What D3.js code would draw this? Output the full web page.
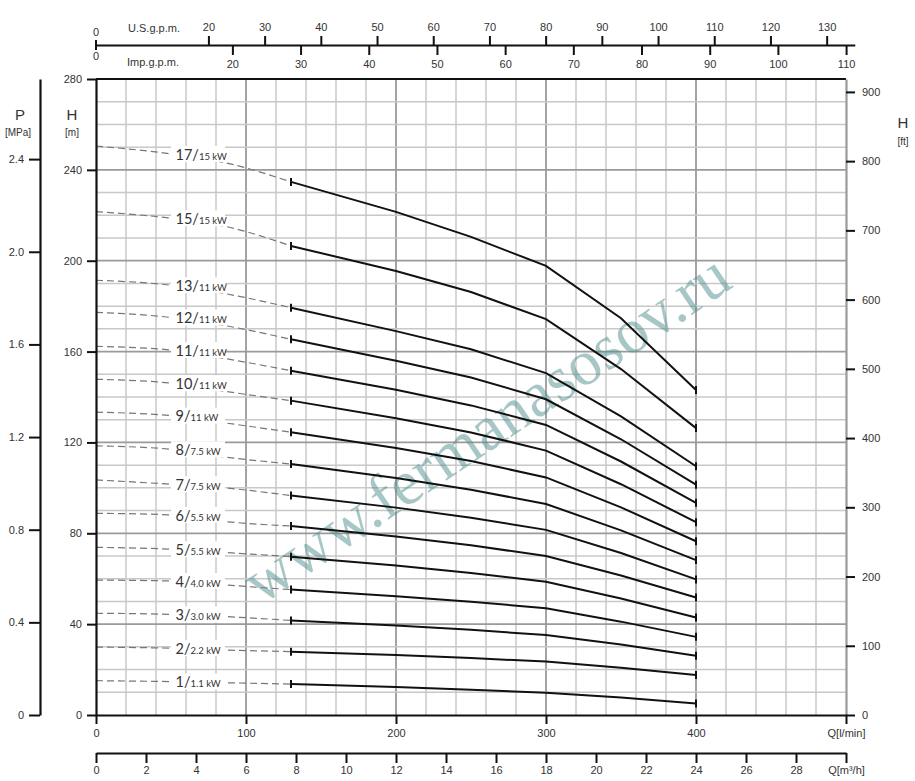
<!DOCTYPE html>
<html><head><meta charset="utf-8">
<script src="https://cdn.jsdelivr.net/npm/d3@7"></script>
<style>body{margin:0;background:#fff}svg{display:block}</style>
</head><body>
<svg id="c" width="915" height="781"></svg>
<script>
// ---------------- data ----------------
const stages = ["17","15","13","12","11","10","9","8","7","6","5","4","3","2","1"];
const powers = ["15 kW","15 kW","11 kW","11 kW","11 kW","11 kW","11 kW","7.5 kW","7.5 kW","5.5 kW","5.5 kW","4.0 kW","3.0 kW","2.2 kW","1.1 kW"];
// dashed (outside operating range) part, Q in l/min
const flowDashed = [0, 50, 87, 130];
const headDashed = [
  [250.5, 247.0, 243.0, 234.7],
  [221.6, 218.7, 215.0, 206.5],
  [191.4, 189.2, 185.4, 179.3],
  [177.3, 175.0, 171.3, 165.4],
  [162.3, 160.7, 156.8, 151.6],
  [147.8, 146.1, 142.4, 138.4],
  [133.3, 131.8, 128.5, 124.5],
  [118.5, 117.0, 113.5, 110.5],
  [103.5, 101.6,  99.9,  96.6],
  [ 88.8,  88.1,  85.1,  83.2],
  [ 73.8,  73.0,  71.5,  69.7],
  [ 59.4,  59.0,  57.2,  55.2],
  [ 44.8,  44.3,  43.3,  41.6],
  [ 29.9,  29.4,  28.6,  27.9],
  [ 15.1,  14.7,  14.2,  13.6]
];
// solid (operating range) part
const flowSolid = [130, 200, 250, 300, 350, 400];
const headSolid = [
  [234.7, 221.5, 210.5, 197.7, 174.7, 143.1],
  [206.5, 195.5, 186.2, 174.3, 152.3, 126.3],
  [179.3, 169.0, 161.0, 150.5, 131.5, 109.5],
  [165.4, 156.0, 148.6, 139.0, 121.4, 101.4],
  [151.6, 143.2, 136.3, 127.7, 111.6,  93.4],
  [138.4, 130.6, 124.4, 116.4, 101.6,  84.9],
  [124.5, 117.5, 111.8, 104.6,  91.4,  76.5],
  [110.5, 104.3,  99.2,  92.9,  81.3,  68.2],
  [ 96.6,  91.3,  86.8,  81.5,  71.3,  59.7],
  [ 83.2,  78.6,  74.7,  70.0,  61.4,  51.7],
  [ 69.7,  65.8,  62.5,  58.7,  51.3,  42.9],
  [ 55.2,  52.3,  49.9,  47.0,  41.1,  34.4],
  [ 41.6,  39.4,  37.5,  35.2,  31.0,  26.1],
  [ 27.9,  26.4,  25.1,  23.5,  20.8,  17.6],
  [ 13.6,  12.3,  11.1,   9.8,   7.7,   5.1]
];
const hTicks   = [0, 40, 80, 120, 160, 200, 240, 280];
const pTicks   = [0, 0.4, 0.8, 1.2, 1.6, 2.0, 2.4];
const ftTicks  = [0, 100, 200, 300, 400, 500, 600, 700, 800, 900];
const qTicks   = [0, 100, 200, 300, 400];
const m3Ticks  = [0, 2, 4, 6, 8, 10, 12, 14, 16, 18, 20, 22, 24, 26, 28];
const usTicks  = [20, 30, 40, 50, 60, 70, 80, 90, 100, 110, 120, 130];
const impTicks = [20, 30, 40, 50, 60, 70, 80, 90, 100, 110];

// unit conversions
const M_PER_MPA = 101.97, M_PER_FT = 0.3048, L_PER_USGAL = 3.747, L_PER_IMPGAL = 4.546;

// ---------------- scales ----------------
const svg = d3.select("#c");
const x = d3.scaleLinear().domain([0, 500]).range([96, 846]);
const y = d3.scaleLinear().domain([0, 280]).range([715, 79]);
const yP = d3.scaleLinear().domain([0, 280 / M_PER_MPA]).range([715, 79]);
const yFt = d3.scaleLinear().domain([0, 280 / M_PER_FT]).range([715, 79]);
const xM3 = d3.scaleLinear().domain([0, 30]).range([x(0), x(500)]);
const xUS = d3.scaleLinear().domain([0, 135]).range([x(0), x(135 * L_PER_USGAL)]);
const xImp = d3.scaleLinear().domain([0, 110]).range([x(0), x(110 * L_PER_IMPGAL)]);

const NARROW = "'Liberation Sans Narrow','Liberation Sans',Arial,sans-serif";
const TXT = "#333";

// ---------------- grid ----------------
const grid = svg.append("g");
d3.range(20, 500, 20).forEach(q => {
  const major = q % 100 === 0;
  grid.append("line").attr("x1", x(q)).attr("x2", x(q)).attr("y1", y(0)).attr("y2", y(280))
    .attr("stroke", major ? "#9a9a9a" : "#c8c8c8").attr("stroke-width", major ? 1.8 : 1.5);
});
d3.range(10, 280, 10).forEach(h => {
  const major = h % 40 === 0;
  grid.append("line").attr("x1", x(0)).attr("x2", x(500)).attr("y1", y(h)).attr("y2", y(h))
    .attr("stroke", major ? "#9a9a9a" : "#c8c8c8").attr("stroke-width", major ? 1.8 : 1.5);
});

// ---------------- watermark ----------------
svg.append("text").text("www.fermanasosov.ru")
  .attr("transform", "translate(486,428) rotate(-34)")
  .attr("text-anchor", "middle").attr("dominant-baseline", "central")
  .style("font-family", "'Liberation Serif','DejaVu Serif',serif")
  .style("font-size", "64px").attr("fill", "#4f9090").attr("fill-opacity", 0.5);

// ---------------- curves ----------------
const dashLine = d3.line().x(d => x(d[0])).y(d => y(d[1])).curve(d3.curveMonotoneX);
const solidLine = d3.line().x(d => x(d[0])).y(d => y(d[1]));
const curves = svg.append("g");
stages.forEach((s, i) => {
  curves.append("path").attr("d", dashLine(flowDashed.map((q, j) => [q, headDashed[i][j]])))
    .attr("fill", "none").attr("stroke", "#777").attr("stroke-width", 1.2).attr("stroke-dasharray", "7,4");
});
// labels with white background
stages.forEach((s, i) => {
  const cy = y(headDashed[i][1]);
  curves.append("rect").attr("x", x(50)).attr("y", cy - 8).attr("width", x(86) - x(50)).attr("height", 16).attr("fill", "#fff");
  const t = curves.append("text").attr("x", x(53)).attr("y", cy).attr("dy", "0.36em")
    .style("font-family", "Lato,'Open Sans',sans-serif").attr("fill", TXT);
  t.append("tspan").text(s + "/").style("font-size", "14.5px");
  t.append("tspan").text(powers[i]).style("font-size", "9.5px");
});
stages.forEach((s, i) => {
  const pts = flowSolid.map((q, j) => [q, headSolid[i][j]]);
  curves.append("path").attr("d", solidLine(pts)).attr("fill", "none")
    .attr("stroke", "#111").attr("stroke-width", 2);
  [pts[0], pts[pts.length - 1]].forEach(p => {
    curves.append("line").attr("x1", x(p[0])).attr("x2", x(p[0]))
      .attr("y1", y(p[1]) - 4).attr("y2", y(p[1]) + 4).attr("stroke", "#111").attr("stroke-width", 2);
  });
});

// ---------------- axes ----------------
function style(g, domainColor) {
  g.selectAll(".tick line").attr("stroke", "#111").attr("stroke-width", 2);
  g.select(".domain").attr("stroke", domainColor || "#111").attr("stroke-width", 2.2);
  g.selectAll("text").style("font-family", NARROW).style("font-size", "11px").attr("fill", TXT);
}
// top border
svg.append("line").attr("x1", x(0)).attr("x2", x(500)).attr("y1", y(280)).attr("y2", y(280))
  .attr("stroke", "#111").attr("stroke-width", 2.2);
// H [m] left
svg.append("g").attr("transform", `translate(${x(0)},0)`)
  .call(d3.axisLeft(y).tickValues(hTicks).tickSize(9).tickSizeOuter(0).tickPadding(5))
  .call(g => style(g));
// P [MPa]
svg.append("g").attr("transform", "translate(40,0)")
  .call(d3.axisLeft(yP).tickValues(pTicks).tickSize(11).tickSizeOuter(0).tickPadding(5)
    .tickFormat(d => d === 0 ? "0" : d3.format(".1f")(d)))
  .call(g => style(g));
// H [ft] right
svg.append("g").attr("transform", `translate(${x(500)},0)`)
  .call(d3.axisRight(yFt).tickValues(ftTicks).tickSize(9).tickSizeOuter(0).tickPadding(7))
  .call(g => style(g, "#9a9a9a"));
// Q [l/min]
svg.append("g").attr("transform", `translate(0,${y(0)})`)
  .call(d3.axisBottom(x).tickValues(qTicks.concat([500])).tickSize(9).tickSizeOuter(0).tickPadding(5)
    .tickFormat(d => d === 500 ? "Q[l/min]" : d))
  .call(g => style(g));
// Q [m3/h]
svg.append("g").attr("transform", "translate(0,753)")
  .call(d3.axisBottom(xM3).tickValues(m3Ticks.concat([30])).tickSize(10).tickSizeOuter(0).tickPadding(3)
    .tickFormat(d => d === 30 ? "Q[m³/h]" : d))
  .call(g => style(g));
// U.S. gpm (top)
svg.append("g").attr("transform", "translate(0,45)")
  .call(d3.axisTop(xUS).tickValues(usTicks).tickSize(9).tickSizeOuter(0).tickPadding(5))
  .call(g => style(g));
// Imp gpm
svg.append("g").attr("transform", "translate(0,45)")
  .call(d3.axisBottom(xImp).tickValues(impTicks).tickSize(10).tickSizeOuter(0).tickPadding(5))
  .call(g => { style(g); g.select(".domain").remove(); });
// zero tick of top axes
svg.append("line").attr("x1", xUS(0)).attr("x2", xUS(0)).attr("y1", 40).attr("y2", 50)
  .attr("stroke", "#111").attr("stroke-width", 2);

// ---------------- axis titles ----------------
function label(t, xx, yy, size, anchor, fam) {
  svg.append("text").text(t).attr("x", xx).attr("y", yy).attr("text-anchor", anchor || "middle")
    .attr("dy", "0.35em").style("font-family", fam || NARROW).style("font-size", size + "px").attr("fill", TXT);
}
label("0", xUS(0), 32, 11);
label("0", xImp(0), 56, 11);
label("U.S.g.p.m.", 128, 28, 11, "start");
label("Imp.g.p.m.", 127, 62, 11, "start");
label("P", 20, 115, 15, "middle", "'Liberation Sans',Arial,sans-serif");
label("[MPa]", 18, 132, 10, "middle");
label("H", 72, 115, 15, "middle", "'Liberation Sans',Arial,sans-serif");
label("[m]", 72, 132, 10, "middle");
label("H", 903, 123, 15, "middle", "'Liberation Sans',Arial,sans-serif");
label("[ft]", 903, 141, 10, "middle");
</script>
</body></html>
